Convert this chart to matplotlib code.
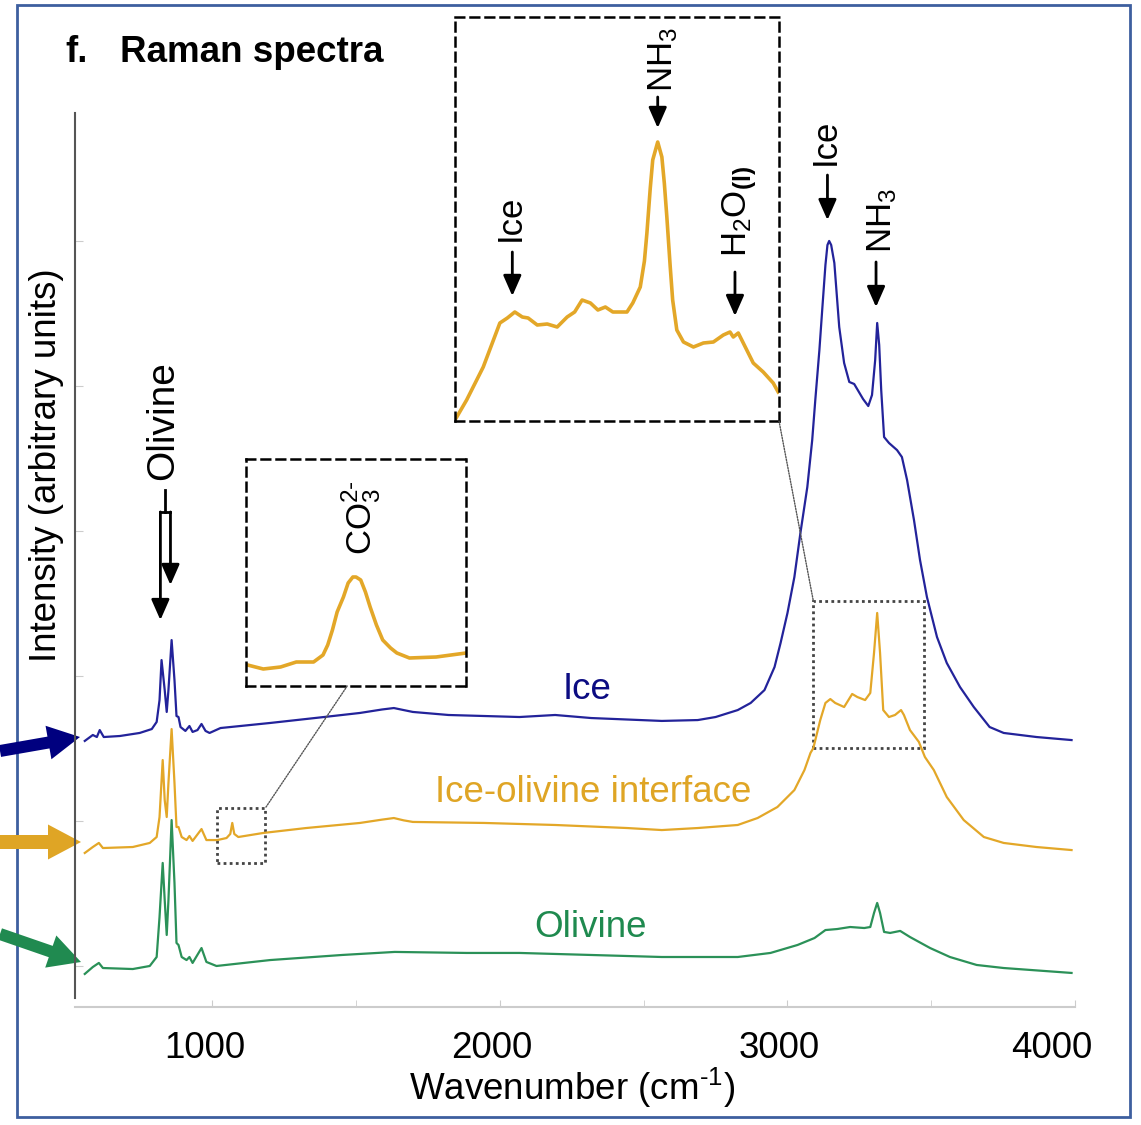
import matplotlib
matplotlib.use("Agg")
import matplotlib.pyplot as plt
from matplotlib.patches import Rectangle, FancyArrow, ConnectionPatch
from matplotlib.transforms import ScaledTranslation

plt.rcParams['font.family'] = ['Liberation Sans', 'DejaVu Sans']
plt.rcParams['mathtext.fontset'] = 'custom'
plt.rcParams['mathtext.rm'] = 'Liberation Sans'
plt.rcParams['mathtext.it'] = 'Liberation Sans:italic'
plt.rcParams['mathtext.bf'] = 'Liberation Sans:bold'

# Ice spectrum (wavenumber cm-1, stacked intensity in counts)
ice_wn = [556, 584, 598, 608, 622, 678, 747, 789, 806, 816, 823, 834, 841, 847, 858,
          868, 875, 882, 889, 906, 920, 931, 948, 962, 976, 990, 1028, 1201, 1388,
          1513, 1590, 1631, 1665, 1697, 1821, 2068, 2192, 2317, 2563, 2688, 2750, 2827,
          2872, 2920, 2955, 2976, 3000, 3024, 3045, 3069, 3086, 3097, 3111, 3121, 3132,
          3139, 3145, 3152, 3163, 3180, 3197, 3215, 3232, 3263, 3281, 3294, 3305, 3312,
          3319, 3326, 3336, 3353, 3381, 3398, 3416, 3440, 3461, 3485, 3520, 3554, 3600,
          3648, 3703, 3752, 3866, 3988]
ice_int = [1553, 1594, 1580, 1628, 1580, 1587, 1608, 1635, 1684, 1835, 2111, 1904, 1753,
           1904, 2249, 1973, 1725, 1718, 1649, 1622, 1656, 1615, 1628, 1670, 1622, 1608,
           1642, 1677, 1718, 1746, 1770, 1780, 1766, 1753, 1732, 1718, 1732, 1711, 1691,
           1697, 1718, 1766, 1815, 1904, 2063, 2229, 2436, 2684, 2988, 3305, 3629, 3912,
           4250, 4533, 4837, 4975, 5003, 4975, 4851, 4409, 4161, 4030, 4016, 3912, 3864,
           3940, 4181, 4437, 4285, 3974, 3650, 3609, 3560, 3512, 3353, 3077, 2801, 2546,
           2270, 2091, 1925, 1787, 1649, 1608, 1580, 1559]

# Ice-olivine interface spectrum
mix_wn = [556, 584, 605, 619, 723, 782, 806, 816, 827, 834, 841, 847, 858, 868, 875,
          882, 893, 910, 920, 931, 962, 979, 1017, 1049, 1062, 1069, 1076, 1090, 1177,
          1326, 1513, 1590, 1631, 1665, 1697, 1946, 2192, 2442, 2563, 2688, 2827, 2896,
          2965, 3024, 3059, 3080, 3090, 3114, 3132, 3149, 3166, 3197, 3225, 3243, 3270,
          3288, 3301, 3312, 3322, 3333, 3353, 3374, 3395, 3405, 3426, 3457, 3478, 3509,
          3554, 3613, 3683, 3752, 3866, 3988]
mix_int = [780, 821, 849, 814, 821, 849, 890, 1028, 1421, 1145, 1028, 1263, 1635, 1263,
           959, 959, 890, 869, 897, 863, 945, 869, 869, 883, 911, 987, 911, 890, 918,
           952, 987, 1010, 1021, 1005, 994, 987, 973, 952, 938, 952, 973, 1021, 1097,
           1214, 1352, 1470, 1504, 1697, 1815, 1842, 1815, 1787, 1877, 1856, 1835, 1884,
           2160, 2436, 2160, 1766, 1718, 1732, 1766, 1732, 1628, 1546, 1442, 1352, 1166,
           1007, 890, 849, 821, 800]

# Olivine spectrum
oli_wn = [556, 584, 605, 619, 723, 782, 806, 816, 827, 834, 841, 847, 858, 868, 875,
          882, 893, 910, 920, 931, 962, 979, 1014, 1201, 1451, 1634, 1884, 2068, 2317,
          2563, 2688, 2827, 2941, 3035, 3094, 3132, 3173, 3218, 3267, 3288, 3301, 3312,
          3322, 3336, 3357, 3392, 3426, 3496, 3565, 3658, 3752, 3988]
oli_int = [-55, -7, 21, -14, -21, 0, 62, 338, 711, 455, 214, 455, 1007, 573, 159, 145,
           62, 41, 62, 21, 124, 28, 0, 41, 76, 97, 90, 90, 76, 62, 62, 62, 90, 145, 193,
           248, 255, 269, 262, 269, 366, 435, 366, 235, 228, 242, 200, 124, 62, 7, -14,
           -48]

# CO3 inset (zoom of the interface spectrum)
co3_wn = [1021, 1031, 1042, 1052, 1063, 1069, 1072, 1075, 1078, 1082, 1085, 1088, 1090,
          1093, 1096, 1099, 1103, 1107, 1112, 1116, 1124, 1141, 1160]
co3_int = [84, 68, 76, 96, 96, 124, 164, 224, 296, 356, 412, 436, 436, 424, 376, 316,
           244, 184, 152, 132, 112, 116, 132]

# NH3 inset (zoom of the interface spectrum)
nh3_wn = [3075, 3089, 3109, 3129, 3138, 3147, 3156, 3163, 3174, 3186, 3198, 3210, 3219,
          3228, 3238, 3247, 3256, 3265, 3282, 3289, 3298, 3303, 3306, 3310, 3313, 3319,
          3324, 3327, 3330, 3334, 3337, 3342, 3350, 3362, 3374, 3386, 3398, 3406, 3410,
          3416, 3422, 3434, 3446, 3458, 3464]
nh3_int = [4, 84, 216, 392, 412, 436, 416, 412, 384, 388, 376, 416, 436, 484, 472, 444,
           456, 436, 436, 472, 536, 640, 752, 930, 1044, 1116, 1056, 950, 816, 620, 484,
           364, 316, 296, 312, 316, 344, 356, 336, 352, 312, 232, 196, 152, 116]

ice_col = '#23239a'
mix_col = '#e3a728'
oli_col = '#2b9158'
W, H = 1141, 1125

fig = plt.figure(figsize=(W / 100, H / 100), dpi=100)

# overlay in pixel units for frame and side arrows
ov = fig.add_axes([0, 0, 1, 1])
ov.set_xlim(0, W)
ov.set_ylim(H, 0)
ov.axis('off')
ov.add_patch(Rectangle((17, 5), 1113, 1112, fill=False, edgecolor='#3d5f9f', lw=2))
ov.add_patch(FancyArrow(0, 751, 80, -14, width=12, head_width=34, head_length=32,
                        length_includes_head=True, color='#00007f', lw=0))
ov.add_patch(FancyArrow(0, 842, 81, 0, width=14, head_width=35, head_length=33,
                        length_includes_head=True, color='#dfa525', lw=0))
ov.add_patch(FancyArrow(0, 934, 81, 28, width=12, head_width=34, head_length=32,
                        length_includes_head=True, color='#208a50', lw=0))

ax = fig.add_axes([75 / W, 1 - 1007 / H, 1000 / W, 894 / H])
ax.plot(oli_wn, oli_int, color=oli_col, lw=1.6)
ax.plot(mix_wn, mix_int, color=mix_col, lw=1.6)
ax.plot(ice_wn, ice_int, color=ice_col, lw=1.6)
ax.set_xlim(522, 3988)
ax.set_ylim(-283, 5886)
ax.patch.set_alpha(0)

for s in ['top', 'right']:
    ax.spines[s].set_visible(False)
ax.spines['left'].set_color('#555555')
ax.spines['left'].set_linewidth(1.5)
ax.spines['left'].set_bounds(-221, 5886)
ax.spines['bottom'].set_color('#cccccc')
ax.spines['bottom'].set_linewidth(1.5)

ax.set_xticks([1000, 2000, 3000, 4000])
ax.set_xticklabels(['1000', '2000', '3000', '4000'])
ax.set_xticks([1500, 2500, 3500], minor=True)
ax.tick_params(axis='x', which='both', direction='in', length=5, color='#cccccc',
               labelsize=26.5, pad=17)
ax.set_yticks([0, 1000, 2000, 3000, 4000, 5000])
ax.set_yticklabels([])
ax.tick_params(axis='y', direction='in', length=6, color='#cccccc')
for i, lab in enumerate(ax.get_xticklabels()):
    dx = -23 if i == 3 else -8
    lab.set_transform(lab.get_transform() + ScaledTranslation(dx / 100, 0, fig.dpi_scale_trans))

# spectrum labels
ax.text(2303, 1842, 'Ice', color='#0c0c82', fontsize=26.5, ha='center', va='baseline')
ax.text(2324, 1132, 'Ice-olivine interface', color='#dfa525', fontsize=26.5,
        ha='center', va='baseline')
ax.text(2314, 200, 'Olivine', color='#1f8a4f', fontsize=26.5, ha='center', va='baseline')

arrow_kw = dict(arrowstyle='-|>,head_length=0.5,head_width=0.22', color='black', lw=2,
                shrinkA=0, shrinkB=0, mutation_scale=25)

# Olivine bracket
ax.text(830, 3767, 'Olivine', rotation=90, fontsize=28, ha='center', va='center')
ax.plot([834, 834], [3284, 3133], color='black', lw=2)
ax.plot([819, 854], [3133, 3133], color='black', lw=2)
ax.annotate('', xy=(819, 2387), xytext=(819, 3133), arrowprops=arrow_kw)
ax.annotate('', xy=(854, 2629), xytext=(854, 3133), arrowprops=arrow_kw)

# Ice / NH3 peaks
ax.text(3132, 5686, 'Ice', rotation=90, fontsize=25, ha='center', va='center')
ax.annotate('', xy=(3139, 5147), xytext=(3139, 5458), arrowprops=arrow_kw)
ax.text(3329, 5147, 'NH$_3$', rotation=90, fontsize=25, ha='center', va='center')
ax.annotate('', xy=(3308, 4547), xytext=(3308, 4858), arrowprops=arrow_kw)

# zoom boxes on the main axes
ax.add_patch(Rectangle((1017, 711), 167, 379, fill=False, edgecolor='#444444', lw=2,
                       linestyle=(0, (1, 1.2))))
ax.add_patch(Rectangle((3090, 1504), 385, 1014, fill=False, edgecolor='#444444', lw=2,
                       linestyle=(0, (1, 1.2))))

# CO3 inset
ins1 = fig.add_axes([246 / W, 1 - 686 / H, 220 / W, 227 / H])
ins1.plot(co3_wn, co3_int, color=mix_col, lw=2.6)
ins1.set_xlim(1020, 1160)
ins1.set_ylim(0, 908)
ins1.set_xticks([])
ins1.set_yticks([])
for s in ins1.spines.values():
    s.set_linestyle((0, (3.5, 2.5)))
    s.set_linewidth(1.8)
ins1.text(1093, 672, 'CO$_3^{2\\text{-}}$', rotation=90, fontsize=25, ha='center',
          va='center')

# NH3 inset
ins2 = fig.add_axes([455 / W, 1 - 421 / H, 324 / W, 404 / H])
ins2.plot(nh3_wn, nh3_int, color=mix_col, lw=2.6)
ins2.set_xlim(3075, 3465)
ins2.set_ylim(0, 1616)
ins2.set_xticks([])
ins2.set_yticks([])
for s in ins2.spines.values():
    s.set_linestyle((0, (3.5, 2.5)))
    s.set_linewidth(1.8)
ins2.text(3325, 1444, 'NH$_3$', rotation=90, fontsize=25, ha='center', va='center')
ins2.annotate('', xy=(3319, 1172), xytext=(3319, 1296), arrowprops=arrow_kw)
ins2.text(3142, 812, 'Ice', rotation=90, fontsize=25, ha='center', va='center')
ins2.annotate('', xy=(3144, 500), xytext=(3144, 676), arrowprops=arrow_kw)
ins2.text(3417, 840, 'H$_2$O$_{\\mathbf{(l)}}$', rotation=90, fontsize=25, ha='center',
          va='center')
ins2.annotate('', xy=(3412, 420), xytext=(3412, 596), arrowprops=arrow_kw)

# connector lines
fig.add_artist(ConnectionPatch(xyA=(0.46, 0), coordsA=ins1.transAxes,
                               xyB=(1184, 1090), coordsB=ax.transData,
                               color='#555555', lw=1, linestyle=(0, (1, 1))))
fig.add_artist(ConnectionPatch(xyA=(1, 0), coordsA=ins2.transAxes,
                               xyB=(3090, 2518), coordsB=ax.transData,
                               color='#555555', lw=1, linestyle=(0, (1, 1))))

fig.text(65 / W, 1 - 62 / H, 'f.', fontsize=26.5, fontweight='bold', va='baseline')
fig.text(120 / W, 1 - 62 / H, 'Raman spectra', fontsize=26.5, fontweight='bold',
         va='baseline')
fig.text(47 / W, 1 - 465 / H, 'Intensity (arbitrary units)', fontsize=26.5,
         rotation=90, ha='center', va='center')
fig.text(572 / W, 1 - 1100 / H, 'Wavenumber (cm$^{\\text{-}1}$)', fontsize=26.5,
         ha='center', va='baseline')

fig.savefig('out.png', dpi=100)
